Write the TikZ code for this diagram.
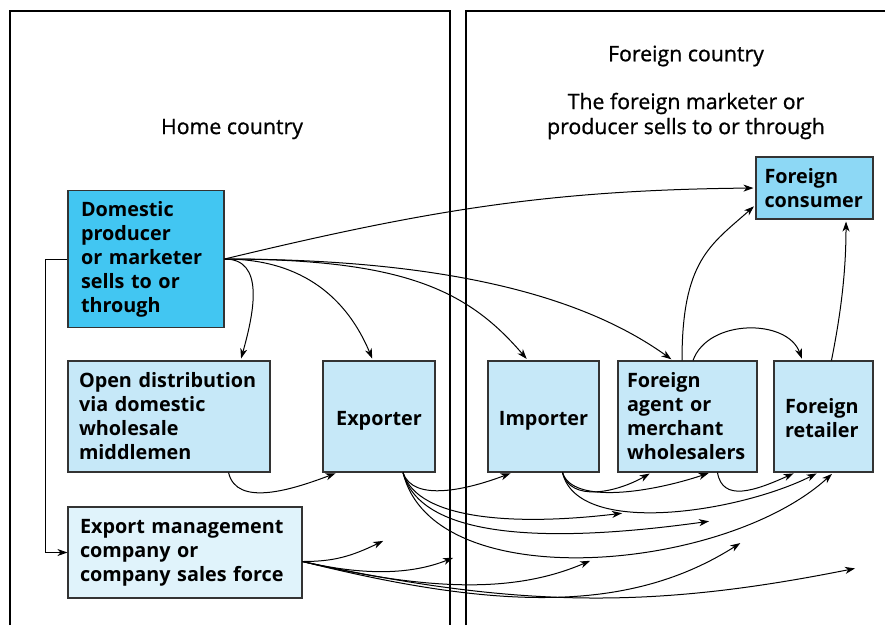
\documentclass[tikz,border=0pt]{standalone}
\usepackage{fontspec}
\setmainfont{Open Sans}
\newfontfamily\titlefont{Open Sans}[FakeBold=0.9]
\usetikzlibrary{arrows.meta}

\definecolor{domblue}{HTML}{42C6F2}
\definecolor{conblue}{HTML}{8DD8F5}
\definecolor{boxblue}{HTML}{C6E8F8}
\definecolor{emcblue}{HTML}{E0F3FB}

\begin{document}
\begin{tikzpicture}[x=1pt,y=-1pt,
  box/.style={draw=black!80,line width=1.1pt,fill=boxblue,inner sep=0pt,
    font=\fontsize{19.8}{24}\selectfont\bfseries},
  arr/.style={-{Stealth[length=10pt,width=7pt,inset=3pt]},line width=1pt,shorten >=2pt},
  title/.style={font=\titlefont\fontsize{21.3}{25}\selectfont,align=center}]
  \useasboundingbox (0,0) rectangle (885,625);
  % the two countries
  \draw[line width=1.2pt] (10,625) -- (10,11) -- (450,11) -- (450,625);
  \draw[line width=1.2pt] (466,625) -- (466,11) -- (885,11);
  \node[title] (home) at (232,129) {Home country};
  \node[title] (foreign) at (686,56) {Foreign country};
  \node[title] (sells) at (686,116) {The foreign marketer or\\producer sells to or through};

  % boxes
  \node[box,fill=domblue,minimum width=156pt,minimum height=137pt,text width=130pt,align=left]
    (dom) at (146,259) {Domestic\\producer\\or marketer\\sells to or\\through};
  \node[box,minimum width=202pt,minimum height=111pt,text width=180pt,align=left]
    (open) at (169,416.5) {Open distribution\\via domestic\\wholesale\\middlemen};
  \node[box,minimum width=112pt,minimum height=111pt,text height=17pt,text depth=0pt,align=center]
    (exp) at (379,416.5) {Exporter};
  \node[box,minimum width=111pt,minimum height=111pt,text height=17pt,text depth=0pt,align=center]
    (imp) at (543.5,416.5) {Importer};
  \node[box,minimum width=139pt,minimum height=111pt,text width=121pt,align=left]
    (agent) at (687.5,416.5) {Foreign\\agent or\\merchant\\wholesalers};
  \node[box,minimum width=99pt,minimum height=111pt,text width=77pt,text height=19pt,align=left]
    (ret) at (823.5,416.5) {Foreign\\retailer};
  \node[box,fill=conblue,minimum width=117pt,minimum height=62pt,text width=100pt,align=left]
    (cons) at (814.5,188) {Foreign\\consumer};
  \node[box,fill=emcblue,minimum width=234pt,minimum height=91pt,text width=210pt,align=left]
    (emc) at (185,552.5) {Export management\\company or\\company sales force};

  % outlets and loose ends
  \path (open.south east) ++(-42,0) coordinate (openout);
  \path (exp.south) ++(24,0) coordinate (expout);
  \path (imp.south) ++(19,0) coordinate (impout);
  \path (agent.south) ++(30,0) coordinate (agout);
  \path (emc.east) ++(0,9) coordinate (emcout);
  \coordinate (e1) at (385,540);
  \coordinate (e2) at (455,557);
  \coordinate (e3) at (592,560);
  \coordinate (e4) at (742,542);
  \coordinate (e5) at (857,568);
  \coordinate (f1) at (624,513);
  \coordinate (f2) at (711,521);

  % from the domestic producer
  \draw[arr] (dom.east) .. controls +(200,-48) and +(-210,2) .. (cons.west);
  \draw[arr] (dom.east) .. controls +(40,0) and +(14,-50) .. ([xshift=-30pt]open.north east);
  \draw[arr] (dom.east) .. controls +(80,0) and +(-25,-60) .. ([xshift=-6pt]exp.north);
  \draw[arr] (dom.east) .. controls +(180,0) and +(-60,-70) .. ([xshift=-15.5pt]imp.north);
  \draw[arr] (dom.east) .. controls +(260,0) and +(-70,-50) .. ([xshift=-14.5pt]agent.north);
  \draw[arr,shorten >=0pt] (dom.west) -- ++(-22,0) |- (emc.west);

  % home middlemen
  \draw[arr] (openout) .. controls +(8,35) and +(-45,17) .. ([xshift=15pt]exp.south west);
  \draw[arr] (expout) .. controls +(10,30) and +(-45,17) .. ([xshift=25pt]imp.south west);
  \draw[arr] (expout) .. controls +(15,50) and +(-100,12) .. (f1);
  \draw[arr] (expout) .. controls +(20,75) and +(-130,18) .. (f2);
  \draw[arr] (expout) .. controls +(30,125) and +(-110,100) .. ([xshift=60pt]ret.south west);

  \draw[arr] (emcout) .. controls +(30,0) and +(-35,17) .. (e1);
  \draw[arr] (emcout) .. controls +(60,14) and +(-45,18) .. (e2);
  \draw[arr] (emcout) .. controls +(140,33) and +(-70,30) .. (e3);
  \draw[arr] (emcout) .. controls +(200,50) and +(-110,70) .. (e4);
  \draw[arr] (emcout) .. controls +(220,48) and +(-200,40) .. (e5);

  % foreign middlemen
  \draw[arr] (impout) .. controls +(8,30) and +(-35,20) .. ([xshift=34pt]agent.south west);
  \draw[arr] (impout) .. controls +(10,32) and +(-60,20) .. ([xshift=93pt]agent.south west);
  \draw[arr] (impout) .. controls +(15,65) and +(-80,40) .. ([xshift=45pt]ret.south west);
  \draw[arr] (agout) .. controls +(5,30) and +(-40,18) .. ([xshift=22pt]ret.south west);

  \draw[arr] ([xshift=-5.5pt]agent.north) .. controls +(0,-100) and +(-45,40) .. ([yshift=-17pt]cons.west);
  \draw[arr] ([xshift=5.5pt]agent.north) .. controls +(15,-42) and +(-15,-42) .. ([xshift=29pt]ret.north west);
  \draw[arr] ([xshift=58pt]ret.north west) .. controls +(10,-50) and +(0,50) .. ([xshift=31.5pt]cons.south);
\end{tikzpicture}
\end{document}
